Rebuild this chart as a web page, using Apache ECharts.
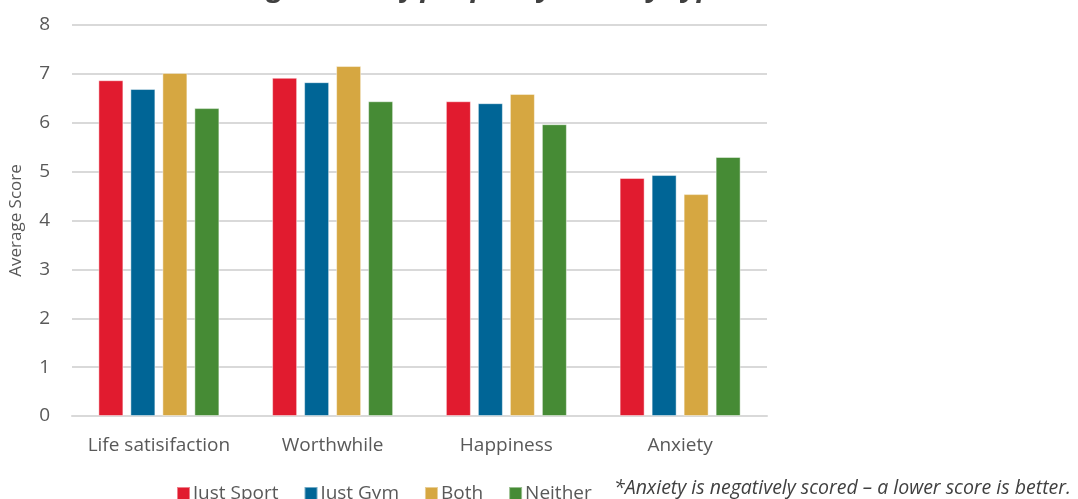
<!DOCTYPE html>
<html>
<head>
<meta charset="utf-8">
<script src="https://cdn.jsdelivr.net/npm/echarts@6/dist/echarts.min.js"></script>
<style>
  html, body { margin: 0; padding: 0; background: #ffffff; }
  #chart { width: 1078px; height: 499px; }
</style>
</head>
<body>
<div id="chart"></div>
<script>
// Average wellbeing scores by activity group
const categories = ['Life satisifaction', 'Worthwhile', 'Happiness', 'Anxiety'];
const seriesNames = ['Just Sport', 'Just Gym', 'Both', 'Neither'];
const justSport = [6.87, 6.92, 6.44, 4.87];
const justGym = [6.69, 6.83, 6.40, 4.93];
const both = [7.02, 7.16, 6.59, 4.54];
const neither = [6.30, 6.44, 5.97, 5.30];
const yTicks = [0, 1, 2, 3, 4, 5, 6, 7, 8];

const colors = ['#e11b2f', '#006596', '#d6a741', '#468b35'];
const seriesData = [justSport, justGym, both, neither];
const fontFamily = '"Open Sans", "Noto Sans", sans-serif';

const chart = echarts.init(document.getElementById('chart'));
chart.setOption({
  backgroundColor: '#ffffff',
  animation: false,
  grid: { left: 70, right: 311, top: 25, bottom: 83 },
  legend: {
    data: seriesNames,
    left: 171,
    bottom: -9,
    itemWidth: 13,
    itemHeight: 13,
    itemGap: 25,
    icon: 'rect',
    textStyle: { fontFamily: fontFamily, fontSize: 19, color: '#595959', padding: [0, 0, 0, -2] }
  },
  xAxis: {
    type: 'category',
    data: categories,
    axisLine: { lineStyle: { color: '#d9d9d9', width: 2 } },
    axisTick: { show: false },
    axisLabel: { fontFamily: fontFamily, fontSize: 19, color: '#595959', margin: 20, interval: 0 }
  },
  yAxis: {
    type: 'value',
    min: yTicks[0],
    max: yTicks[yTicks.length - 1],
    interval: 1,
    name: 'Average Score',
    nameLocation: 'middle',
    nameGap: 47,
    nameTextStyle: { fontFamily: fontFamily, fontSize: 17, color: '#595959' },
    axisLine: { show: false },
    axisTick: { show: false },
    splitLine: { lineStyle: { color: '#d9d9d9', width: 2 } },
    axisLabel: { fontFamily: fontFamily, fontSize: 19, color: '#595959', margin: 22 }
  },
  series: seriesNames.map((name, i) => ({
    name: name,
    type: 'bar',
    data: seriesData[i],
    barWidth: 25,
    barGap: '28%',
    itemStyle: {
      color: colors[i],
      borderColor: 'rgba(255,255,255,0.45)',
      borderWidth: 1
    }
  })),
  graphic: [{
    // chart heading, sitting above the top edge of the canvas
    type: 'text',
    x: 149,
    y: 0,
    style: {
      text: 'Wellbeing scores of people by activity type',
      x: 0,
      y: -27,
      fontFamily: fontFamily,
      fontSize: 29,
      fontWeight: 'bold',
      fontStyle: 'italic',
      fill: '#404040'
    }
  }, {
    type: 'text',
    left: 614,
    top: 478,
    style: {
      text: '*Anxiety is negatively scored \u2013 a lower score is better.',
      fontFamily: fontFamily,
      fontSize: 19.5,
      fontStyle: 'italic',
      fill: '#404040'
    }
  }]
});
</script>
</body>
</html>
